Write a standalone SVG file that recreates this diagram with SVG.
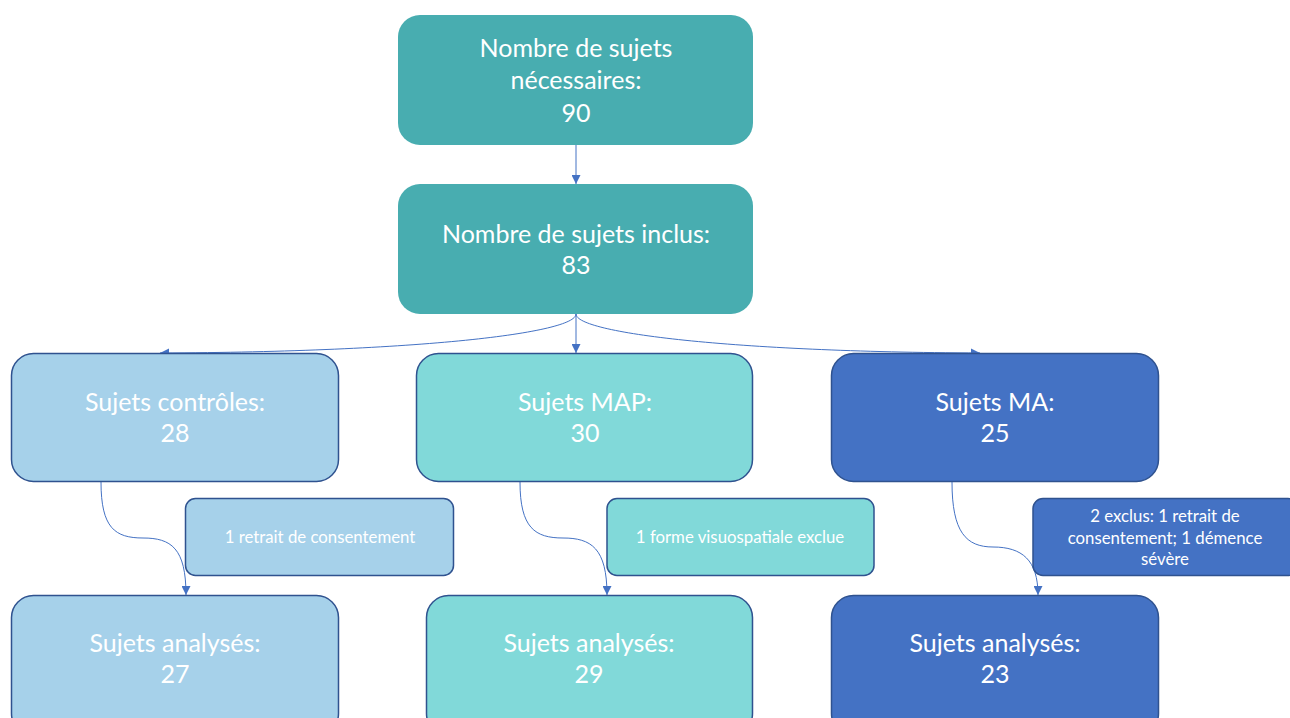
<svg xmlns="http://www.w3.org/2000/svg" width="1290" height="718" viewBox="0 0 1290 718">
<defs>
<marker id="ah" viewBox="0 0 10 10" refX="10" refY="5" markerWidth="9" markerHeight="9" markerUnits="userSpaceOnUse" orient="auto">
<path d="M0,0 L10,5 L0,10 Z" fill="#4472C4"/>
</marker>
<style>
.t{font-family:Lato,"Open Sans","Liberation Sans",sans-serif;fill:#fff;text-anchor:middle}
.big{font-size:25px}
.small{font-size:16.8px}
.teal{fill:#48ADB0}
.lb{fill:#A6D1EA;stroke:#2F528F;stroke-width:1.5}
.cy{fill:#81D9D9;stroke:#2F528F;stroke-width:1.5}
.db{fill:#4472C4;stroke:#2F528F;stroke-width:1.5}
.c{fill:none;stroke:#4472C4;stroke-width:1}
</style>
</defs>
<rect width="1290" height="718" fill="#fff"/>
<g id="connectors">
<path class="c" d="M576,145 L576,184" marker-end="url(#ah)"/>
<path class="c" d="M576,314 L576,353" marker-end="url(#ah)"/>
<path class="c" d="M576,314 C576,333 420,352 160,353" marker-end="url(#ah)"/>
<path class="c" d="M576,314 C576,333 732,352 980,353" marker-end="url(#ah)"/>
<path class="c" d="M101,482 C101,528 115,538 143,538 C171,538 186,548 186,595" marker-end="url(#ah)"/>
<path class="c" d="M520,482 C520,528 535,538 563,538 C591,538 607,548 607,595" marker-end="url(#ah)"/>
<path class="c" d="M952,482 C952,532 966,547 993,547 C1022,547 1038,560 1038,595" marker-end="url(#ah)"/>
</g>
<g id="n_necessaires">
<rect class="teal" x="398" y="15" width="355" height="130" rx="22"/>
<text class="t big" x="576" y="57">Nombre de sujets</text>
<text class="t big" x="576" y="89">nécessaires:</text>
<text class="t big" x="576" y="122">90</text>
</g>
<g id="n_inclus">
<rect class="teal" x="398" y="184" width="355" height="130" rx="22"/>
<text class="t big" x="576" y="243">Nombre de sujets inclus:</text>
<text class="t big" x="576" y="274">83</text>
</g>
<g id="n_controles">
<rect class="lb" x="11.5" y="353.5" width="327" height="128" rx="22"/>
<text class="t big" x="175" y="411">Sujets contrôles:</text>
<text class="t big" x="175" y="442">28</text>
</g>
<g id="n_map">
<rect class="cy" x="416.5" y="353.5" width="336" height="128" rx="22"/>
<text class="t big" x="585" y="411">Sujets MAP:</text>
<text class="t big" x="585" y="442">30</text>
</g>
<g id="n_ma">
<rect class="db" x="831.5" y="353.5" width="327" height="128" rx="22"/>
<text class="t big" x="995" y="411">Sujets MA:</text>
<text class="t big" x="995" y="442">25</text>
</g>
<g id="e_controles">
<rect class="lb" x="185.5" y="498.5" width="268" height="77" rx="10"/>
<text class="t small" x="320" y="543">1 retrait de consentement</text>
</g>
<g id="e_map">
<rect class="cy" x="607" y="498.5" width="267" height="77" rx="10"/>
<text class="t small" x="740" y="543">1 forme visuospatiale exclue</text>
</g>
<g id="e_ma">
<rect class="db" x="1033" y="498.5" width="265" height="77" rx="10"/>
<text class="t small" x="1165" y="522">2 exclus: 1 retrait de</text>
<text class="t small" x="1165" y="544">consentement; 1 démence</text>
<text class="t small" x="1165" y="565">sévère</text>
</g>
<g id="a_controles">
<rect class="lb" x="11.5" y="595.5" width="327" height="140" rx="22"/>
<text class="t big" x="175" y="652">Sujets analysés:</text>
<text class="t big" x="175" y="683">27</text>
</g>
<g id="a_map">
<rect class="cy" x="426.5" y="595.5" width="326" height="140" rx="22"/>
<text class="t big" x="589" y="652">Sujets analysés:</text>
<text class="t big" x="589" y="683">29</text>
</g>
<g id="a_ma">
<rect class="db" x="831.5" y="595.5" width="327" height="140" rx="22"/>
<text class="t big" x="995" y="652">Sujets analysés:</text>
<text class="t big" x="995" y="683">23</text>
</g>
</svg>
